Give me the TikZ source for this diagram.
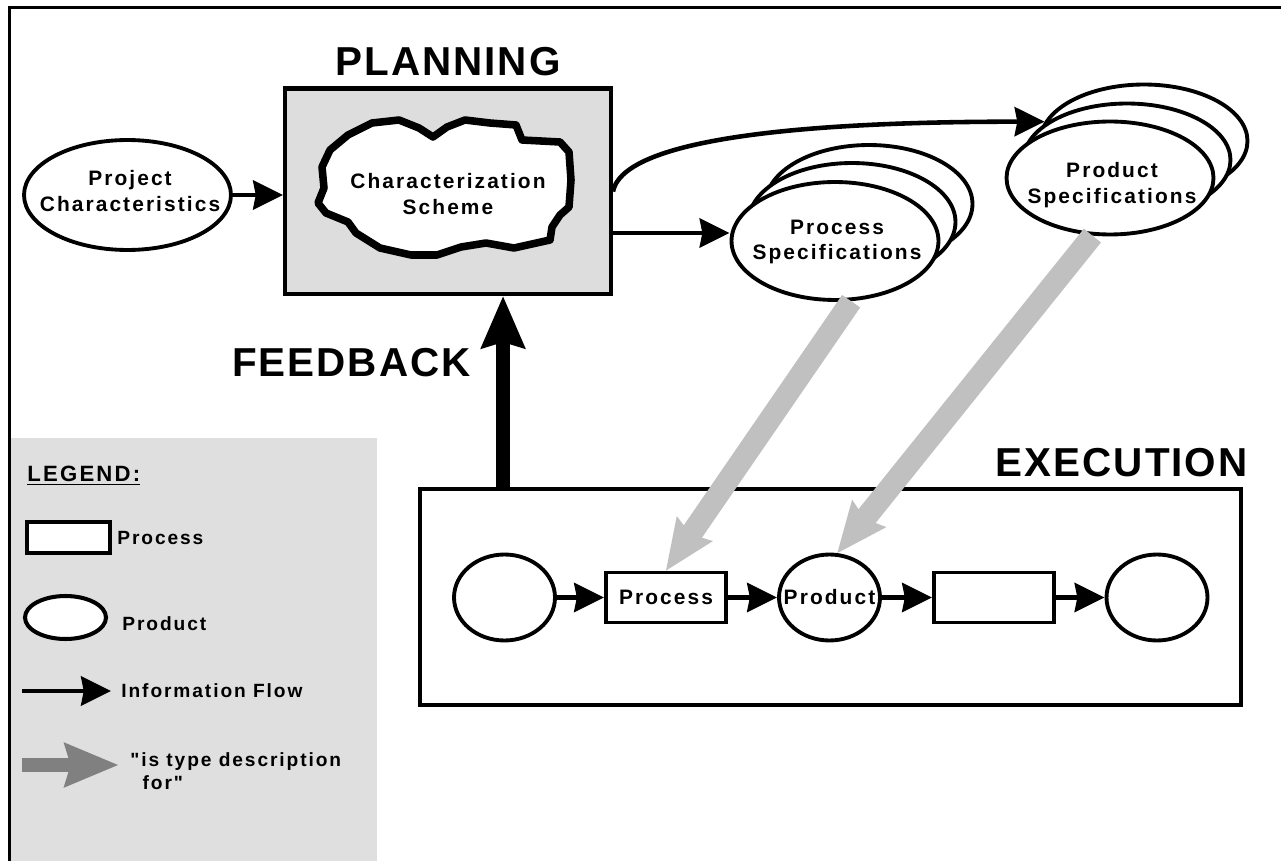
\documentclass[tikz,border=0pt]{standalone}
\usepackage{fontspec}
\setmainfont{Liberation Sans}[LetterSpace=10]
\newfontfamily\headfont{Liberation Sans}[LetterSpace=5]
\newfontfamily\legfont{Liberation Sans}[LetterSpace=10]
\usetikzlibrary{arrows.meta,shapes.geometric}

\definecolor{plangrey}{HTML}{DDDDDD}
\definecolor{leggrey}{HTML}{DFDFDF}
\definecolor{typegrey}{HTML}{C0C0C0}
\definecolor{darkarrow}{HTML}{808080}

\tikzset{
  txt/.style={font=\bfseries\fontsize{11.9}{14.7}\selectfont, align=center, inner sep=0pt},
  headtxt/.style={font=\headfont\bfseries\fontsize{23}{26}\selectfont, inner sep=0pt},
  legtext/.style={font=\legfont\bfseries\fontsize{10.9}{13}\selectfont, align=left, anchor=west, inner sep=0pt},
  prod/.style={ellipse, draw, line width=2.2pt, fill=white, inner sep=0pt},
  proc/.style={rectangle, draw, line width=2.2pt, fill=white, inner sep=0pt},
  flow/.style={line width=2.6pt, -{Stealth[length=17pt,width=16.5pt,inset=1.5pt]}},
  typeof/.style={draw=typegrey, line width=12.5pt, -{Stealth[length=29pt,width=25pt,inset=4pt,line width=0pt]}},
  legtype/.style={draw=darkarrow, line width=8pt, -{Stealth[length=31pt,width=26pt,inset=4pt,line width=0pt]}},
  feedbk/.style={line width=8pt, -{Stealth[length=30pt,width=26pt,inset=4pt,line width=0pt]}}
}

\begin{document}
\begin{tikzpicture}[x=0.02cm, y=-0.02cm]
  \fill[white] (0,0) rectangle (1281,861);
  \useasboundingbox (0,0) rectangle (1281,861);

  \fill[leggrey] (11,438) rectangle (377,861);
  \draw[line width=1.7pt] (9.5,861) -- (9.5,7.5) -- (1281,7.5);

  % planning
  \node[headtxt] (planlbl) at (448,62) {PLANNING};
  \node[draw, line width=2.3pt, fill=plangrey, minimum width=6.52cm, minimum height=4.12cm] (plan) at (448,191.5) {};
  \draw[line width=4.3pt, line join=round, fill=white] (330,150) -- (348,135) -- (372,123) -- (399,120) -- (419,128)
    -- (433,137) -- (447,127) -- (465,120) -- (490,123) -- (516,125) -- (522,140) -- (560,142) -- (569,152)
    -- (571,180) -- (569,207) -- (560,215) -- (552,227) -- (550,240) -- (514,248) -- (486,243) -- (461,247)
    -- (437,255) -- (411,255) -- (380,248) -- (356,233) -- (348,222) -- (326,213) -- (318,203) -- (324,188)
    -- (322,167) -- cycle;
  \node[txt] (scheme) at (448,194) {Characterization\\Scheme};

  \node[prod, minimum width=4.14cm, minimum height=2.2cm] (projchar) at (127.5,195) {};
  \node[txt] (projchartxt) at (130,191) {Project\\Characteristics};
  \draw[flow] (projchar.east) -- (plan.west |- projchar.east);

  % execution
  \node[headtxt, anchor=east] (execlbl) at (1248,462.5) {EXECUTION};
  \node[draw, line width=2.3pt, minimum width=16.42cm, minimum height=4.32cm] (exec) at (830.5,597) {};
  \node[prod, minimum width=2.02cm, minimum height=1.72cm] (e1) at (504.5,597.5) {};
  \node[proc, minimum width=2.4cm, minimum height=1cm, font=\bfseries\fontsize{11.9}{14.7}\selectfont] (eproc) at (666,597.5) {Process};
  \node[prod, minimum width=2.02cm, minimum height=1.72cm] (eprod) at (829.5,597.5) {};
  \node[txt] (eprodtxt) at (eprod) {Product};
  \node[proc, minimum width=2.4cm, minimum height=1cm] (erect) at (994,597.5) {};
  \node[prod, minimum width=2.02cm, minimum height=1.72cm] (e5) at (1157,597.5) {};
  \foreach \a/\b in {e1/eproc, eproc/eprod, eprod/erect, erect/e5}
    \draw[flow] (\a) -- (\b);

  % specifications
  \foreach \n/\px/\py in {procspecc/869/204, procspecb/852/222, procspec/835/241}
    \node[prod, minimum width=4.14cm, minimum height=2.36cm] (\n) at (\px,\py) {};
  \node[txt] (procspectxt) at (837,242) {Process\\Specifications};
  \foreach \n/\px/\py in {prodspecc/1144/141, prodspecb/1127/160, prodspec/1110/178}
    \node[prod, minimum width=4.14cm, minimum height=2.26cm] (\n) at (\px,\py) {};
  \node[txt] (prodspectxt) at (1112,185) {Product\\Specifications};

  \draw[flow] (plan.east |- 0,233) -- (procspec.west |- 0,233);
  \draw[flow] (plan.east) .. controls +(9,-46) and +(-284,0) .. (prodspecc.169);

  \draw[typeof] (procspec.-75) -- (eproc.north);
  \draw[typeof] (prodspec.-107) -- (eprod.80);

  \node[headtxt] (fblbl) at (351.5,363) {FEEDBACK};
  \coordinate (fbfoot) at ([xshift=1.7cm]exec.north west);
  \draw[feedbk] (fbfoot) -- (fbfoot |- plan.south);

  % legend
  \node[legtext, font=\legfont\bfseries\fontsize{12.6}{14}\selectfont] (leghead) at (27,476) {\underline{LEGEND:}};
  \node[proc, line width=2.3pt, minimum width=1.66cm, minimum height=0.62cm] (legproc) at (68.5,537.5) {};
  \node[legtext] (legproctxt) at (117,538) {Process};
  \node[prod, line width=2.3pt, minimum width=1.62cm, minimum height=0.86cm] (legprod) at (65.5,617.5) {};
  \node[legtext] (legprodtxt) at (122,624) {Product};
  \coordinate (legflowa) at (22,691);
  \coordinate (legflowb) at (111,691);
  \draw[flow] (legflowa) -- (legflowb);
  \node[legtext] (legflowtxt) at (121,691) {Information Flow};
  \coordinate (legtypea) at (22,765);
  \coordinate (legtypeb) at (118,765);
  \draw[legtype] (legtypea) -- (legtypeb);
  \node[legtext] (legtypetxt) at (130,771.5) {"is type description\\\hspace*{7pt}for"};
\end{tikzpicture}
\end{document}
